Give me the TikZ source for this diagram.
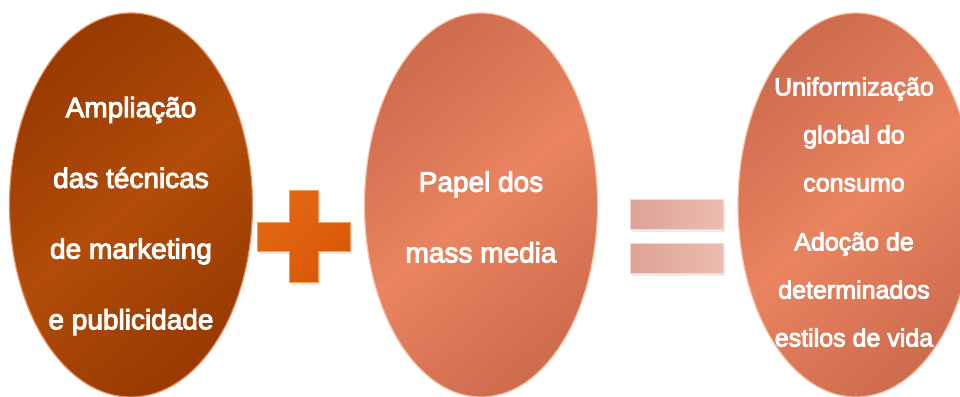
\documentclass[tikz,border=0pt]{standalone}
\usepackage{fontspec}
\setmainfont{Liberation Sans}
\newfontfamily\medfont{Liberation Sans}[FakeBold=3.5]
\usetikzlibrary{shapes.geometric}
\definecolor{brownA}{HTML}{983A02}
\definecolor{brownB}{HTML}{B24C08}
\definecolor{brownRim}{HTML}{E89060}
\definecolor{salA}{HTML}{CE6C4E}
\definecolor{salB}{HTML}{EA8460}
\definecolor{salRim}{HTML}{F6C0A4}
\definecolor{plusA}{HTML}{D85808}
\definecolor{plusB}{HTML}{E46812}
\definecolor{plusRim}{HTML}{F4A060}
\definecolor{eqA}{HTML}{DCA296}
\definecolor{eqB}{HTML}{EDBCB0}
\definecolor{eqRim}{HTML}{F6D8D0}
\tikzset{
  bubble/.style={ellipse, inner sep=0pt, outer sep=0pt, line width=1.2pt},
  brownbubble/.style={bubble, draw=brownRim, top color=brownA, bottom color=brownA, middle color=brownB, shading angle=40},
  salbubble/.style={bubble, draw=salRim, top color=salA, bottom color=salA, middle color=salB, shading angle=40},
  bigtext/.style={text=white, align=center, font=\medfont\fontsize{28}{70.7}\selectfont},
  smalltext/.style={text=white, align=center, font=\medfont\fontsize{25}{48}\selectfont},
  eqbar/.style={rectangle, inner sep=0pt, minimum width=93pt, minimum height=30pt, draw=eqRim, line width=0.8pt, left color=eqA, right color=eqB}
}
\begin{document}
\begin{tikzpicture}[x=1pt,y=-1pt]
\useasboundingbox (0,0) rectangle (960,396);
\clip (0,0) rectangle (960,396);
\fill[white] (0,0) rectangle (960,396);

% ellipses
\node[brownbubble, minimum width=243pt, minimum height=384pt] (left) at (131,205) {};
\node[salbubble, minimum width=233pt, minimum height=384pt] (mid) at (481,205) {};
\node[salbubble, minimum width=236pt, minimum height=384pt] (right) at (856,205) {};

% texts
\node[bigtext] (lefttext) at (131,216) {Ampliação\\das técnicas\\de marketing\\e publicidade};
\node[bigtext] (midtext) at (481,217) {Papel dos\\mass media};
\node[smalltext] (righttext) at (854,212) {Uniformização\\global do\\consumo\\[11pt]Adoção de\\determinados\\estilos de vida};

% plus sign
\fill[gray!30, opacity=0.5] (291,193) -- (320,193) -- (320,225) -- (352,225) -- (352,254) -- (320,254) -- (320,285) -- (291,285) -- (291,254) -- (259,254) -- (259,225) -- (291,225) -- cycle;
\path[draw=plusRim, line width=0.8pt, top color=plusB, bottom color=plusA, shading angle=45]
  (289,190) -- (318,190) -- (318,222) -- (350,222) -- (350,251) -- (318,251) -- (318,282) -- (289,282) -- (289,251) -- (257,251) -- (257,222) -- (289,222) -- cycle;

% equals sign
\fill[gray!30, opacity=0.5] (632,202) rectangle (725,232);
\fill[gray!30, opacity=0.5] (632,246) rectangle (725,276);
\node[eqbar] (eqtop) at (676.5,214) {};
\node[eqbar] (eqbot) at (676.5,258) {};
\end{tikzpicture}
\end{document}
